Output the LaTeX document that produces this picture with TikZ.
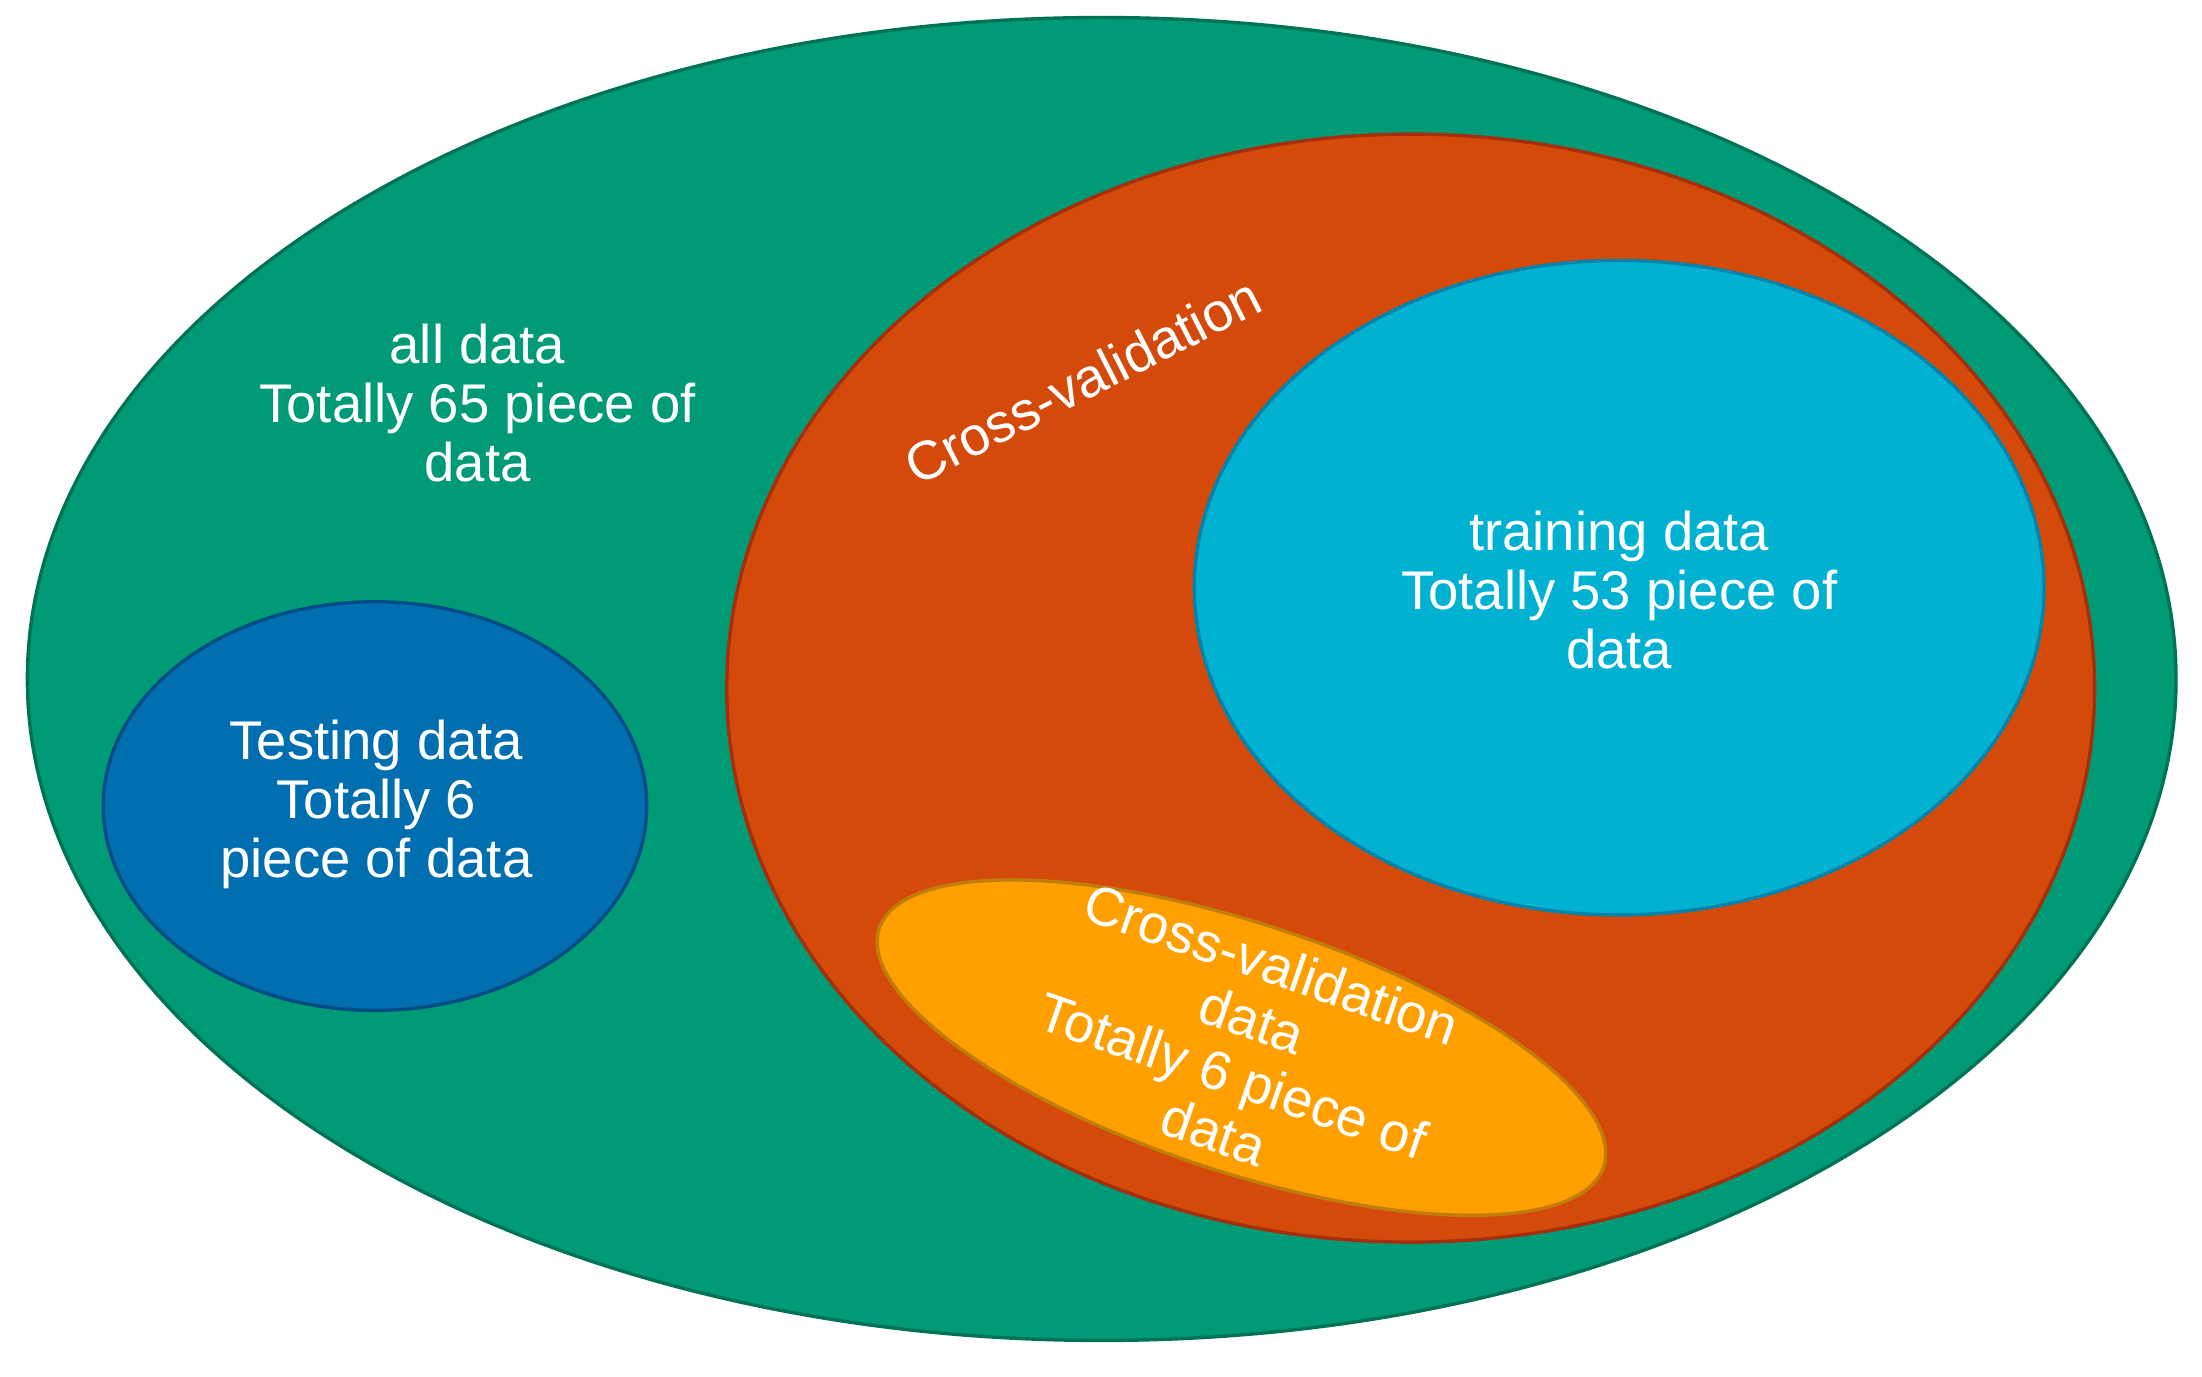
\documentclass[tikz,border=0pt]{standalone}
\usepackage{fontspec}
\setmainfont{Liberation Sans}
\definecolor{gfill}{RGB}{0,155,118}
\definecolor{gline}{RGB}{0,115,86}
\definecolor{rfill}{RGB}{211,74,10}
\definecolor{rline}{RGB}{165,46,12}
\definecolor{cfill}{RGB}{0,177,210}
\definecolor{cline}{RGB}{0,132,172}
\definecolor{bfill}{RGB}{0,110,175}
\definecolor{bline}{RGB}{0,76,132}
\definecolor{ofill}{RGB}{255,160,0}
\definecolor{oline}{RGB}{192,125,12}
\tikzset{
  blob/.style={line width=3.4pt},
  lbl/.style={text=white, align=center, inner sep=0pt, font=\fontsize{54.5}{59}\selectfont}
}
\begin{document}
\begin{tikzpicture}[x=1.40434pt,y=1.40434pt]
\useasboundingbox (0,0) rectangle (1568,980);
\fill[white] (0,0) rectangle (1568,980);
% all data
\draw[blob, fill=gfill, draw=gline] (784.5,496.5) ellipse [x radius=765, y radius=471];
% cross-validation region
\draw[blob, fill=rfill, draw=rline] (1004.5,490) ellipse [x radius=487, y radius=394.5];
% training
\draw[blob, fill=cfill, draw=cline] (1153,561.5) ellipse [x radius=302.5, y radius=233];
% testing
\draw[blob, fill=bfill, draw=bline] (267,406) ellipse [x radius=193.5, y radius=145.5];
% cross-validation data
\draw[blob, fill=ofill, draw=oline, rotate around={-18.2:(884,234)}] (884,234) ellipse [x radius=271.5, y radius=88.5];

\node[lbl] (alld) at (340,693) {all data\\Totally 65 piece of\\data};
\node[lbl] (test) at (268,407) {Testing data\\Totally 6\\piece of data};
\node[lbl] (train) at (1153,560) {training data\\Totally 53 piece of\\data};
\node[lbl, rotate=27] (cvl) at (771,709) {Cross-validation};
\node[lbl, rotate=-19] (cvd) at (885,234) {Cross-validation\\data\\Totally 6 piece of\\data};
\end{tikzpicture}
\end{document}
